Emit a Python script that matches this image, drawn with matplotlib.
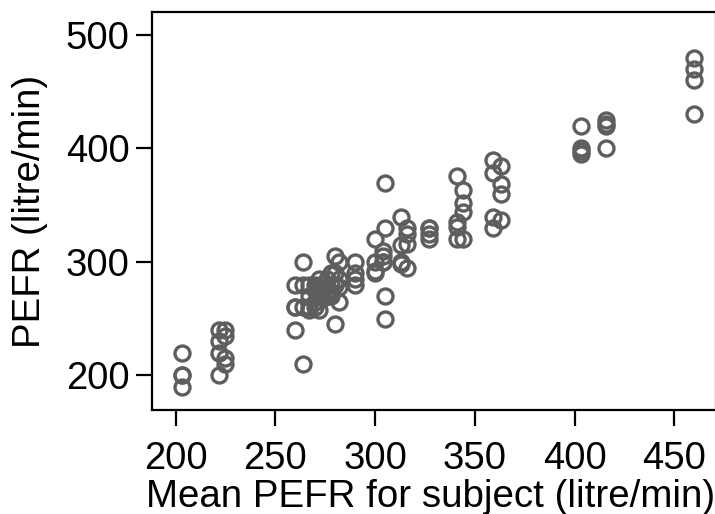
import matplotlib
matplotlib.use('Agg')
import matplotlib.pyplot as plt

# mean PEFR per subject (x) and that subject's individual readings (y)
subject_mean = [203, 222, 225, 260, 264, 267, 270, 272, 274, 276, 278, 280,
                282, 290, 300, 304, 305, 313, 316, 327, 341, 344, 359, 363,
                403, 416, 460]
readings = [
    [220, 200, 200, 190],
    [240, 230, 220, 200],
    [240, 235, 215, 210],
    [280, 260, 260, 240],
    [300, 280, 260, 210],
    [280, 270, 260, 258],
    [280, 275, 265, 260],
    [285, 275, 270, 258],
    [280, 275, 272, 268],
    [285, 278, 270, 270],
    [290, 280, 272, 270],
    [305, 290, 280, 245],
    [300, 285, 278, 265],
    [300, 290, 285, 280],
    [320, 300, 292, 290],
    [310, 305, 300, 300],
    [370, 330, 270, 250],
    [340, 315, 300, 298],
    [330, 325, 316, 295],
    [330, 330, 325, 320],
    [376, 335, 331, 320],
    [363, 352, 344, 320],
    [390, 378, 340, 330],
    [385, 369, 360, 337],
    [420, 400, 398, 395],
    [425, 422, 420, 400],
    [480, 470, 460, 430],
]
xticks = [200, 250, 300, 350, 400, 450]
yticks = [200, 300, 400, 500]

plt.rcParams['font.family'] = ['Liberation Sans', 'DejaVu Sans']

fig = plt.figure(figsize=(7.15, 5.14), dpi=100)
ax = fig.add_axes([152 / 715, 104 / 514, 564 / 715, 398 / 514])

xs, ys = [], []
for m, r in zip(subject_mean, readings):
    xs += [m] * len(r)
    ys += r
ax.plot(xs, ys, 'o', ms=10.8, mew=2.4, mfc='none', color='#5e5e5e', ls='none')

ax.set_xlim(188.2, 470.9)
ax.set_ylim(169.5, 520.3)
ax.set_xticks(xticks)
ax.set_yticks(yticks)
for s in ax.spines.values():
    s.set_linewidth(1.6)
ax.tick_params(labelsize=27.5, length=11.5, width=1.6)
ax.tick_params(axis='x', pad=11)
ax.tick_params(axis='y', pad=4.6)
ax.set_xlabel('Mean PEFR for subject (litre/min)', fontsize=27.7, labelpad=1.5)
ax.xaxis.label.set_x(0.4938)
ax.set_ylabel('PEFR (litre/min)', fontsize=27.6, labelpad=13)

fig.savefig('out.png', dpi=100)
